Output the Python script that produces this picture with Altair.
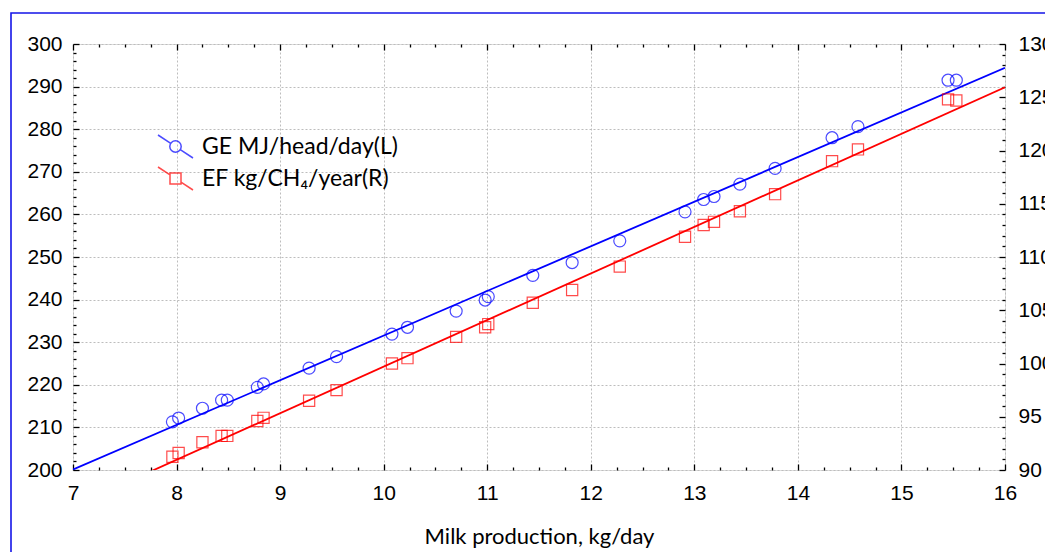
import altair as alt
import pandas as pd

# ---------------- data ----------------
milk = [7.96, 8.02, 8.25, 8.435, 8.49, 8.78, 8.84, 9.28, 9.545, 10.08, 10.23, 10.70, 10.98,
        11.01, 11.44, 11.82, 12.28, 12.91, 13.09, 13.19, 13.44, 13.78, 14.33, 14.58, 15.45, 15.53]
ge = [211.3, 212.2, 214.5, 216.4, 216.4, 219.4, 220.2, 223.9, 226.6, 231.9, 233.5, 237.3, 239.9,
      240.7, 245.7, 248.7, 253.8, 260.6, 263.5, 264.2, 267.1, 270.8, 278.0, 280.6, 291.5, 291.5]
ef = [91.25, 91.6, 92.6, 93.2, 93.2, 94.6, 94.9, 96.5, 97.5, 100.0, 100.5, 102.5, 103.4,
      103.7, 105.7, 106.9, 109.1, 111.9, 113.0, 113.3, 114.3, 115.9, 119.0, 120.1, 124.8, 124.7]
series_names = ["GE MJ/head/day(L)", "EF kg/CH\u2084/year(R)"]
x_title = "Milk production, kg/day"

x_major = [7, 8, 9, 10, 11, 12, 13, 14, 15, 16]
x_minor = [7 + 0.25 * i for i in range(37)]
ge_major = [200, 210, 220, 230, 240, 250, 260, 270, 280, 290, 300]
ge_minor = list(range(200, 301, 2))
ef_major = [90, 95, 100, 105, 110, 115, 120, 125, 130]
ef_minor = list(range(90, 131, 1))

df = pd.DataFrame({"milk": milk, "ge": ge, "ef": ef})
df["series"] = series_names[0]

W, H = 932, 426
BLUE = "#0000ff"
RED = "#ff0000"
GRID = dict(gridColor="#bdbdbd", gridDash=[2, 2], gridWidth=1)
LAB = dict(labelFont="Liberation Sans", labelFontSize=21, labelColor="black",
           labelFlush=False, labelOverlap=False)

xs = alt.Scale(domain=[7, 16], nice=False, zero=False)
ges = alt.Scale(domain=[200, 300], nice=False, zero=False)
efs = alt.Scale(domain=[90, 130], nice=False, zero=False)


def tick_axis(orient, values, major_test, big, small):
    return alt.Axis(orient=orient, offset=-(H if orient in ("top", "bottom") else W),
                    values=values, labels=False, domain=False, grid=False, title=None,
                    tickColor="black", tickWidth=1.3,
                    tickSize={"condition": {"test": major_test, "value": big}, "value": small})


base = alt.Chart(df)
empty = base.transform_filter("false")

# ---------------- left (GE) group ----------------
ge_pts = base.mark_point(shape="circle", size=144, strokeWidth=1.2, color=BLUE, filled=False).encode(
    x=alt.X("milk:Q", scale=xs,
            axis=alt.Axis(orient="bottom", values=x_major, grid=True, ticks=False, domain=False,
                          labelPadding=12, format="d", title=x_title, titleFont="Lato",
                          titleFontSize=22, titleFontWeight="normal", titleColor="black",
                          titlePadding=23, **GRID, **LAB)),
    y=alt.Y("ge:Q", scale=ges,
            axis=alt.Axis(orient="left", values=ge_major, grid=True, ticks=False, domain=False,
                          labelPadding=11, title=None, format="d", **GRID, **LAB)),
)
ge_line = base.transform_regression("milk", "ge", extent=[7, 16]).mark_line(
    color=BLUE, strokeWidth=1.8, clip=True).encode(
    x=alt.X("milk:Q", scale=xs, axis=None),
    y=alt.Y("ge:Q", scale=ges, axis=None),
)

c_path = ("M-1.75,-1.15L-0.476,-0.313M0.476,0.313L1.75,1.15"
          "M0.57,0A0.57,0.57,0,1,1,-0.57,0A0.57,0.57,0,1,1,0.57,0")
s_path = ("M-1.75,-1.15L-0.55,-0.361M0.55,0.361L1.75,1.15"
          "M-0.55,-0.55H0.55V0.55H-0.55Z")
leg = dict(orient="none", legendX=91, legendY=91, title=None, symbolSize=400,
           symbolStrokeWidth=1.5, labelFont="Lato", labelFontSize=23, labelColor="black",
           rowPadding=3, labelOffset=15, padding=0, labelLimit=400)

d_left = empty.mark_point(filled=False, strokeWidth=1.5).encode(
    x=alt.X("milk:Q", scale=xs, axis=tick_axis("top", x_minor, "datum.value % 1 === 0", 6, 3)),
    y=alt.Y("ge:Q", scale=ges, axis=tick_axis("right", ge_minor, "datum.value % 10 === 0", 6, 3)),
    color=alt.Color("series:N", scale=alt.Scale(domain=series_names, range=[BLUE, RED]),
                    legend=alt.Legend(**leg)),
    shape=alt.Shape("series:N", scale=alt.Scale(domain=series_names, range=[c_path, s_path]),
                    legend=alt.Legend(**leg)),
)

left = alt.layer(ge_pts, ge_line, d_left).resolve_axis(x="independent", y="independent")

# ---------------- right (EF) group ----------------
ef_pts = base.mark_point(shape="square", size=125, strokeWidth=1.2, color=RED, filled=False).encode(
    x=alt.X("milk:Q", scale=xs, axis=None),
    y=alt.Y("ef:Q", scale=efs,
            axis=alt.Axis(orient="right", values=ef_major, grid=False, ticks=False, domain=False,
                          labelPadding=13, title=None, format="d", **LAB)),
)
ef_line = base.transform_regression("milk", "ef", extent=[7, 16]).mark_line(
    color=RED, strokeWidth=1.8, clip=True).encode(
    x=alt.X("milk:Q", scale=xs, axis=None),
    y=alt.Y("ef:Q", scale=efs, axis=None),
)
d_right = empty.mark_point(filled=False).encode(
    x=alt.X("milk:Q", scale=xs, axis=tick_axis("bottom", x_minor, "datum.value % 1 === 0", 6, 3)),
    y=alt.Y("ef:Q", scale=efs, axis=tick_axis("left", ef_minor, "datum.value % 5 === 0", 6, 3)),
)
right = alt.layer(ef_pts, ef_line, d_right).resolve_axis(x="independent", y="independent")

# ---------------- outer blue frame ----------------
frame = alt.Chart(pd.DataFrame({"f": [0]})).mark_rect(
    fill="white", fillOpacity=0, stroke="#1515e8", strokeWidth=1.6).encode(
    x=alt.value(-62), y=alt.value(-31), x2=alt.value(W + 120), y2=alt.value(H + 140))

chart = alt.layer(frame, left, right).resolve_scale(y="independent").resolve_axis(
    x="independent", y="independent").properties(
    width=W, height=H,
    autosize=alt.AutoSizeParams(type="none"),
    padding={"left": 65, "top": 36, "right": 40, "bottom": 82},
).configure_view(stroke="black", strokeWidth=1.6).configure(background="white")

chart.save("out.html", embed_options={"renderer": "svg", "actions": False})
